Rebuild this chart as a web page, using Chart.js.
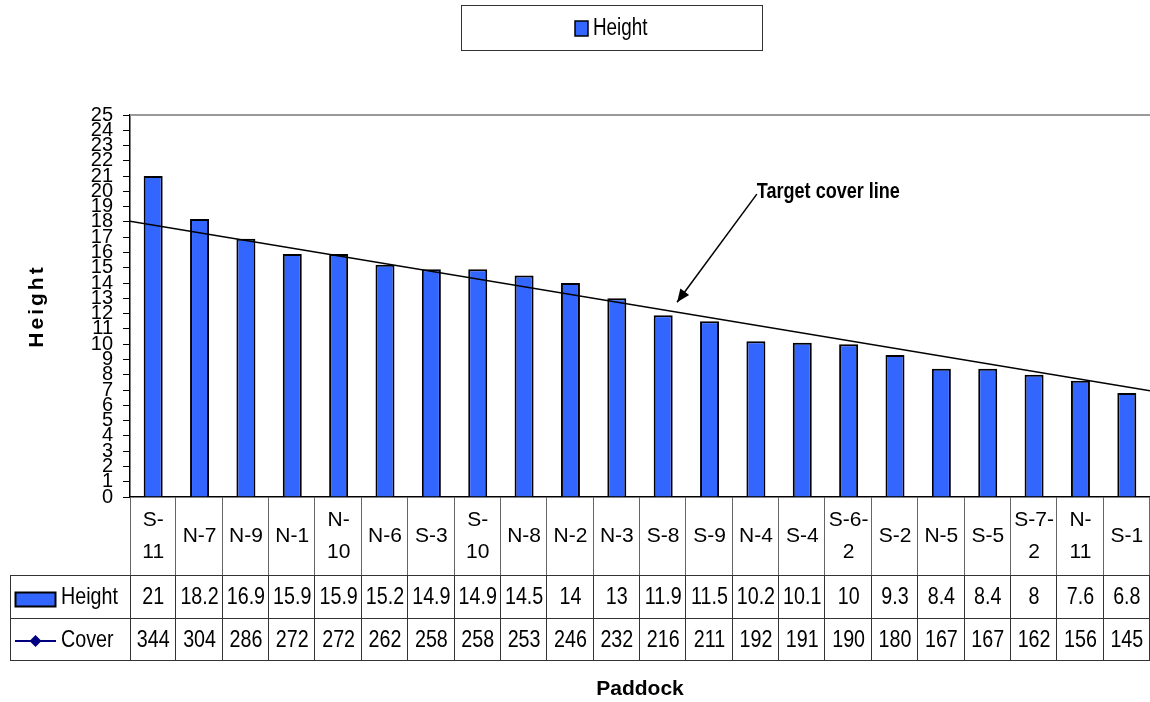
<!DOCTYPE html>
<html><head><meta charset="utf-8">
<script src="https://cdn.jsdelivr.net/npm/chart.js@4/dist/chart.umd.min.js"></script>
<style>html,body{margin:0;padding:0;background:#fff}canvas{display:block}</style>
</head><body>
<canvas id="c" width="1150" height="702"></canvas>
<script>
const categories = [["S-","11"],"N-7","N-9","N-1",["N-","10"],"N-6","S-3",["S-","10"],"N-8","N-2","N-3","S-8","S-9","N-4","S-4",["S-6-","2"],"S-2","N-5","S-5",["S-7-","2"],["N-","11"],"S-1"];
const heightValues = [21,18.2,16.9,15.9,15.9,15.2,14.9,14.9,14.5,14,13,11.9,11.5,10.2,10.1,10,9.3,8.4,8.4,8,7.6,6.8];
const coverValues = [344,304,286,272,272,262,258,258,253,246,232,216,211,192,191,190,180,167,167,162,156,145];
const yMin = 0, yMax = 25, yStep = 1;
const targetLineX = [0, 22];
const targetLineY = [18.05, 6.95];
const annotationText = "Target cover line";

const SANS = '"Liberation Sans", Arial, sans-serif';
const BAR_COLOR = '#3366FF';
const SX = 0.82; // horizontal condensing for narrow-looking text

function narrowText(ctx, text, x, y, font, align) {
  ctx.save();
  ctx.font = font;
  ctx.textBaseline = 'middle';
  ctx.textAlign = align || 'center';
  ctx.translate(x, y);
  ctx.scale(SX, 1);
  ctx.fillText(text, 0, 0);
  ctx.restore();
}

const tablePlugin = {
  id: 'tablePlugin',
  afterDraw(chart) {
    const ctx = chart.ctx;
    const ca = chart.chartArea;
    const xs = chart.scales.x;
    const ys = chart.scales.y;
    const xt = chart.scales.xt;
    const colW = xs.getPixelForValue(1) - xs.getPixelForValue(0);
    const catTop = ca.bottom, rowTop = 575, rowMid = 618, rowBot = 660, tableLeft = 10;
    ctx.save();

    // top border of plot
    ctx.strokeStyle = '#999';
    ctx.lineWidth = 2;
    ctx.beginPath(); ctx.moveTo(ca.left, ca.top); ctx.lineTo(ca.right, ca.top); ctx.stroke();

    // category row vertical lines (grey)
    ctx.lineWidth = 1;
    ctx.strokeStyle = '#666';
    for (let i = 0; i < categories.length; i++) {
      const x = Math.round(xs.getPixelForValue(i) + colW / 2) - 0.5;
      ctx.beginPath(); ctx.moveTo(x, catTop); ctx.lineTo(x, rowTop); ctx.stroke();
    }
    ctx.beginPath(); ctx.moveTo(ca.left + 0.5, catTop); ctx.lineTo(ca.left + 0.5, rowTop); ctx.stroke();

    // data rows grid
    ctx.strokeStyle = '#333';
    [rowTop, rowMid, rowBot].forEach(y => {
      ctx.beginPath(); ctx.moveTo(tableLeft, y + 0.5); ctx.lineTo(ca.right, y + 0.5); ctx.stroke();
    });
    ctx.beginPath(); ctx.moveTo(tableLeft + 0.5, rowTop); ctx.lineTo(tableLeft + 0.5, rowBot); ctx.stroke();
    ctx.beginPath(); ctx.moveTo(ca.left + 0.5, rowTop); ctx.lineTo(ca.left + 0.5, rowBot); ctx.stroke();
    for (let i = 0; i < categories.length; i++) {
      const x = Math.round(xs.getPixelForValue(i) + colW / 2) - 0.5;
      ctx.beginPath(); ctx.moveTo(x, rowTop); ctx.lineTo(x, rowBot); ctx.stroke();
    }

    // values
    ctx.fillStyle = '#000';
    const valFont = '24px ' + SANS;
    for (let i = 0; i < categories.length; i++) {
      const cx = xs.getPixelForValue(i);
      narrowText(ctx, String(heightValues[i]), cx, (rowTop + rowMid) / 2 + 1, valFont);
      narrowText(ctx, String(coverValues[i]), cx, (rowMid + rowBot) / 2 + 1, valFont);
    }
    // row headers
    narrowText(ctx, 'Height', 61, (rowTop + rowMid) / 2 + 1, valFont, 'left');
    narrowText(ctx, 'Cover', 61, (rowMid + rowBot) / 2 + 1, valFont, 'left');
    ctx.fillStyle = BAR_COLOR;
    ctx.fillRect(15.5, 592.5, 40, 14);
    ctx.strokeStyle = '#000'; ctx.lineWidth = 2;
    ctx.strokeRect(15.5, 592.5, 40, 14);
    // cover key
    ctx.strokeStyle = '#000080'; ctx.lineWidth = 2;
    ctx.beginPath(); ctx.moveTo(15, 641); ctx.lineTo(56, 641); ctx.stroke();
    ctx.fillStyle = '#000080';
    ctx.beginPath(); ctx.moveTo(35.5, 635); ctx.lineTo(41.5, 641); ctx.lineTo(35.5, 647); ctx.lineTo(29.5, 641); ctx.closePath(); ctx.fill();

    // top legend box
    ctx.strokeStyle = '#333'; ctx.lineWidth = 1;
    ctx.strokeRect(461.5, 5.5, 301, 45);
    ctx.fillStyle = BAR_COLOR;
    ctx.fillRect(575, 21, 13, 15);
    ctx.strokeStyle = '#000'; ctx.lineWidth = 1.5;
    ctx.strokeRect(575, 21, 13, 15);
    ctx.fillStyle = '#000';
    narrowText(ctx, 'Height', 593, 29, '23px ' + SANS, 'left');

    // annotation
    const tx = xt.getPixelForValue(13.52), ty = ys.getPixelForValue(19.95);
    const ax = xt.getPixelForValue(11.8), ay = ys.getPixelForValue(12.75);
    narrowText(ctx, annotationText, tx, ty, 'bold 22px ' + SANS, 'left');
    ctx.strokeStyle = '#000'; ctx.lineWidth = 1.5;
    ctx.beginPath(); ctx.moveTo(tx, ty + 2); ctx.lineTo(ax, ay); ctx.stroke();
    const ang = Math.atan2(ay - (ty + 2), ax - tx);
    const L = 14, W = 0.4;
    ctx.beginPath();
    ctx.moveTo(ax, ay);
    ctx.lineTo(ax - L * Math.cos(ang - W), ay - L * Math.sin(ang - W));
    ctx.lineTo(ax - L * Math.cos(ang + W), ay - L * Math.sin(ang + W));
    ctx.closePath(); ctx.fillStyle = '#000'; ctx.fill();

    // y title with letter spacing
    ctx.save();
    ctx.translate(37, (ca.top + ca.bottom) / 2);
    ctx.rotate(-Math.PI / 2);
    ctx.font = 'bold 21px ' + SANS;
    if ('letterSpacing' in ctx) ctx.letterSpacing = '3px';
    ctx.textAlign = 'center'; ctx.textBaseline = 'middle';
    ctx.fillStyle = '#000';
    ctx.fillText('Height', 0, 0);
    ctx.restore();

    ctx.restore();
  }
};

new Chart(document.getElementById('c'), {
  type: 'bar',
  data: {
    labels: categories,
    datasets: [
      {
        type: 'line',
        label: 'Target',
        data: targetLineX.map((x, i) => ({ x: x, y: targetLineY[i] })),
        xAxisID: 'xt', yAxisID: 'y',
        borderColor: '#000', borderWidth: 1.5,
        pointRadius: 0, fill: false, order: 0
      },
      {
        type: 'bar',
        label: 'Height',
        data: heightValues,
        xAxisID: 'x', yAxisID: 'y',
        backgroundColor: BAR_COLOR,
        borderColor: '#000', borderWidth: 2,
        grouped: false,
        barPercentage: 0.41, categoryPercentage: 1.0, order: 1
      }
    ]
  },
  options: {
    responsive: false,
    animation: false,
    devicePixelRatio: 1,
    layout: { padding: { left: 10, top: 115, right: 0, bottom: 0 } },
    plugins: { legend: { display: false }, tooltip: { enabled: false } },
    scales: {
      x: {
        type: 'category', offset: true, position: 'bottom',
        grid: { display: false, drawTicks: true, tickLength: 23 },
        border: { display: true, color: '#000', width: 1.5 },
        ticks: {
          autoSkip: false, maxRotation: 0, minRotation: 0,
          padding: 0, crossAlign: 'center', color: '#000',
          font: { family: SANS, size: 21, lineHeight: 1.52 }
        },
        title: {
          display: true, text: 'Paddock', color: '#000',
          font: { family: SANS, size: 21, weight: 'bold' },
          padding: { top: 0, bottom: 0 }
        },
        afterFit(scale) { scale.height = 205; }
      },
      xt: {
        type: 'linear', display: false, offset: false, position: 'bottom',
        grid: { offset: false },
        min: targetLineX[0], max: targetLineX[1]
      },
      y: {
        type: 'linear', position: 'left', min: yMin, max: yMax,
        grid: { display: true, drawOnChartArea: false, drawTicks: true, tickLength: 7, color: '#000', lineWidth: 1 },
        border: { display: true, color: '#000', width: 1.5 },
        ticks: {
          stepSize: yStep, autoSkip: false, padding: 10, color: '#000',
          font: { family: SANS, size: 20 }
        },
        afterFit(scale) { scale.width = 120; }
      }
    }
  },
  plugins: [tablePlugin]
});
</script>
</body></html>
